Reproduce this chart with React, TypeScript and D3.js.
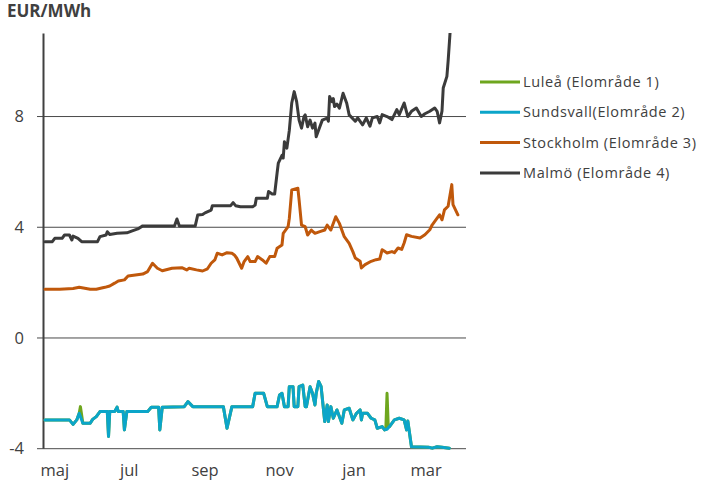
import React from "react";
import * as d3 from "d3";

// day offsets from 2012-05-01, values in EUR/MWh
const malmo: [number, number][] = [
  [-8, 3.48], [-2, 3.48], [0, 3.6], [6, 3.6], [8, 3.72], [12, 3.72], [14, 3.54], [15, 3.68], [19, 3.6], [22, 3.48],
  [35, 3.48], [37, 3.66], [42, 3.72], [43, 3.84], [45, 3.74], [51, 3.78], [59, 3.8], [64, 3.88], [68, 3.94], [72, 4.05],
  [98, 4.05], [100, 4.3], [102, 4.05], [115, 4.05], [117, 4.44], [121, 4.46], [123, 4.52], [128, 4.62], [129, 4.78],
  [144, 4.78], [146, 4.89], [148, 4.78], [152, 4.74], [162, 4.74], [164, 4.8], [165, 5.05], [174, 5.05], [175, 5.29],
  [178, 5.2], [180, 5.2], [182, 5.96], [183, 6.32], [186, 6.6], [187, 6.5], [188, 7.09], [190, 6.86], [192, 7.5],
  [194, 8.49], [196, 8.9], [198, 8.54], [200, 7.87], [202, 7.58], [204, 8.0], [205, 8.06], [207, 7.63], [209, 7.87],
  [211, 7.58], [213, 7.76], [214, 7.27], [217, 7.63], [219, 7.87], [223, 7.94], [224, 7.83], [225, 8.72], [227, 8.54],
  [228, 8.65], [229, 8.36], [231, 8.45], [233, 8.3], [236, 8.84], [239, 8.48], [241, 8.06], [246, 7.83], [248, 7.95],
  [252, 7.7], [255, 7.95], [258, 7.65], [260, 7.95], [264, 8.0], [266, 7.77], [268, 8.07], [272, 8.0], [276, 7.89],
  [280, 8.25], [282, 8.07], [286, 8.49], [289, 8.0], [292, 8.19], [296, 8.31], [300, 8.0], [303, 8.1], [307, 8.19],
  [311, 8.31], [313, 8.19], [315, 7.77], [317, 8.2], [318, 9.03], [321, 9.45], [322, 10.0], [324, 11.3],
];

const stockholm: [number, number][] = [
  [-8, 1.76], [4, 1.76], [15, 1.79], [20, 1.83], [29, 1.76], [34, 1.76], [41, 1.83], [45, 1.88], [49, 1.98], [52, 2.06],
  [57, 2.1], [60, 2.24], [72, 2.31], [76, 2.4], [80, 2.7], [84, 2.52], [88, 2.43], [96, 2.52], [104, 2.54], [108, 2.46],
  [110, 2.52], [116, 2.46], [121, 2.42], [125, 2.5], [128, 2.7], [131, 2.82], [133, 3.06], [137, 3.0], [141, 3.08],
  [145, 3.06], [147, 3.0], [149, 2.88], [153, 2.52], [155, 2.76], [158, 2.94], [160, 2.76], [164, 2.76], [166, 2.94],
  [170, 2.82], [173, 2.7], [176, 2.94], [180, 2.94], [182, 3.24], [186, 3.36], [187, 3.78], [191, 4.02], [192, 4.32],
  [194, 5.35], [199, 5.41], [200, 4.99], [202, 4.08], [205, 4.02], [207, 3.72], [210, 3.9], [213, 3.78], [217, 3.84],
  [221, 3.9], [223, 4.08], [226, 3.9], [230, 4.38], [233, 4.14], [237, 3.66], [241, 3.42], [244, 3.12], [246, 2.89],
  [250, 2.77], [251, 2.53], [254, 2.65], [259, 2.77], [263, 2.83], [266, 2.85], [268, 3.19], [270, 3.13], [272, 3.07],
  [276, 3.12], [278, 3.08], [281, 3.25], [284, 3.2], [286, 3.43], [288, 3.73], [292, 3.67], [299, 3.61], [303, 3.73],
  [307, 3.91], [309, 4.09], [313, 4.33], [315, 4.45], [317, 4.27], [319, 4.63], [322, 4.76], [325, 5.54], [326, 4.82],
  [330, 4.45],
];

const sundsvall: [number, number][] = [
  [-8, -2.96], [12, -2.96], [15, -3.12], [18, -2.96], [20, -2.72], [23, -3.08], [29, -3.08], [31, -2.94], [34, -2.84],
  [37, -2.66], [43, -2.66], [44, -3.56], [45, -2.66], [49, -2.66], [51, -2.5], [52, -2.66], [56, -2.66], [57, -3.32],
  [59, -2.66], [76, -2.66], [79, -2.5], [85, -2.5], [86, -3.32], [88, -2.5], [106, -2.48], [109, -2.3], [113, -2.48],
  [138, -2.48], [141, -3.26], [145, -2.48], [162, -2.48], [164, -2.0], [171, -2.0], [174, -2.48], [182, -2.48],
  [184, -2.06], [186, -2.0], [188, -2.48], [191, -2.48], [192, -1.76], [195, -1.76], [196, -2.48], [199, -2.48],
  [200, -1.76], [203, -1.7], [205, -2.48], [206, -2.48], [209, -1.76], [211, -2.0], [213, -2.42], [214, -2.0],
  [216, -1.57], [218, -1.75], [221, -3.02], [223, -2.42], [224, -3.02], [226, -2.48], [228, -2.9], [231, -2.6],
  [235, -3.08], [237, -2.6], [241, -2.54], [244, -2.96], [247, -2.72], [250, -2.6], [251, -2.96], [252, -2.72],
  [256, -2.72], [259, -2.9], [262, -2.96], [264, -3.26], [268, -3.2], [270, -3.32], [272, -3.3], [274, -3.2],
  [278, -2.96], [282, -2.9], [286, -2.96], [288, -3.32], [289, -3.0], [292, -3.93], [306, -3.95], [309, -3.98],
  [313, -3.93], [317, -3.95], [323, -3.98],
];

const lulea: [number, number][] = [
  [-8, -2.96], [12, -2.96], [15, -3.12], [18, -2.96], [20, -2.72], [21, -2.48], [23, -3.08], [29, -3.08], [31, -2.94],
  [34, -2.84], [37, -2.66], [43, -2.66], [44, -3.56], [45, -2.66], [49, -2.66], [51, -2.5], [52, -2.66], [56, -2.66],
  [57, -3.32], [59, -2.66], [76, -2.66], [79, -2.5], [85, -2.5], [86, -3.32], [88, -2.5], [106, -2.48], [109, -2.3],
  [113, -2.48], [138, -2.48], [141, -3.26], [145, -2.48], [162, -2.48], [164, -2.0], [171, -2.0], [174, -2.48],
  [182, -2.48], [184, -2.06], [186, -2.0], [188, -2.48], [191, -2.48], [192, -1.76], [195, -1.76], [196, -2.48],
  [199, -2.48], [200, -1.76], [203, -1.7], [205, -2.48], [206, -2.48], [209, -1.76], [211, -2.0], [213, -2.42],
  [214, -2.0], [216, -1.57], [218, -1.75], [221, -3.02], [223, -2.42], [224, -3.02], [226, -2.48], [228, -2.9],
  [231, -2.6], [235, -3.08], [237, -2.6], [241, -2.54], [244, -2.96], [247, -2.72], [250, -2.6], [251, -2.96],
  [252, -2.72], [256, -2.72], [259, -2.9], [262, -2.96], [264, -3.26], [268, -3.2], [270, -3.32], [271, -3.3],
  [272, -2.0], [273, -3.2], [274, -3.2], [278, -2.96], [282, -2.9], [286, -2.96], [288, -3.32], [289, -3.0],
  [292, -3.93], [306, -3.95], [309, -3.98], [313, -3.93], [317, -3.95], [323, -3.98],
];

const seriesNames = ["Luleå (Elområde 1)", "Sundsvall(Elområde 2)", "Stockholm (Elområde 3)", "Malmö (Elområde 4)"];
const seriesColors = ["#6ea61e", "#0ba5c9", "#c0580b", "#3b3b3b"];
const yTicks = [-4, 0, 4, 8];
const xTickMonths = ["2012-05-01", "2012-07-01", "2012-09-01", "2012-11-01", "2013-01-01", "2013-03-01"];
const xTickLabels = ["maj", "jul", "sep", "nov", "jan", "mar"];
const unitLabel = "EUR/MWh";

const FONT = "'Open Sans', 'Noto Sans', sans-serif";

export default function App() {
  const base = new Date(2012, 4, 1);
  const toDate = (d: number) => d3.timeDay.offset(base, d);
  const x = d3.scaleTime().domain([new Date(2012, 3, 23), new Date(2013, 3, 1)]).range([45, 464]);
  const y = d3.scaleLinear().domain([-4, 11]).range([448.7, 33.5]);
  const line = d3
    .line<[number, number]>()
    .x((p) => x(toDate(p[0])))
    .y((p) => y(p[1]));
  const all = [lulea, sundsvall, stockholm, malmo];
  const parse = d3.timeParse("%Y-%m-%d");

  return (
    <svg width={704} height={481} style={{ position: "absolute", left: 0, top: 0, background: "#fff" }}>
      <defs>
        <clipPath id="plot">
          <rect x={43} y={33} width={430} height={430} />
        </clipPath>
      </defs>
      <text x={7} y={17} fontFamily={FONT} fontWeight="bold" fontSize={17} fill="#404040">
        {unitLabel}
      </text>
      {yTicks.map((t) => (
        <g key={t}>
          <line x1={37} x2={466} y1={y(t)} y2={y(t)} stroke="#4a4a4a" strokeWidth={1} />
          <text x={24} y={y(t)} dy="0.35em" textAnchor="end" fontFamily={FONT} fontSize={16.5} fill="#404040">
            {t}
          </text>
        </g>
      ))}
      <line x1={43.5} x2={43.5} y1={33.5} y2={y(-4)} stroke="#404040" strokeWidth={2} />
      {xTickMonths.map((m, i) => (
        <text key={m} x={x(parse(m)!)} y={476} textAnchor="middle" fontFamily={FONT} fontSize={16.5} fill="#404040">
          {xTickLabels[i]}
        </text>
      ))}
      <g clipPath="url(#plot)">
        {all.map((s, i) => (
          <path
            key={i}
            d={line(s) || ""}
            fill="none"
            stroke={seriesColors[i]}
            strokeWidth={3}
            strokeLinejoin="round"
            strokeLinecap="round"
          />
        ))}
      </g>
      {seriesNames.map((n, i) => (
        <g key={n} transform={`translate(480, ${82 + i * 30.3})`}>
          <line x1={0} x2={40} y1={0} y2={0} stroke={seriesColors[i]} strokeWidth={3} />
          <text x={43} y={0} dy="0.35em" fontFamily={FONT} fontSize={14.5} letterSpacing={0.6} fill="#404040">
            {n}
          </text>
        </g>
      ))}
    </svg>
  );
}
